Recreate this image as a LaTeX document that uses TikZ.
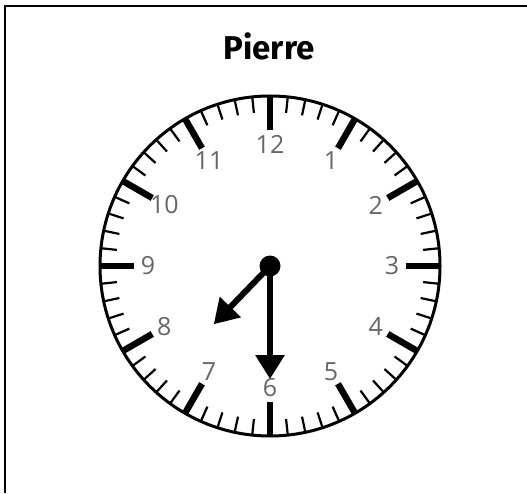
\documentclass[tikz,border=0pt]{standalone}
\usepackage{fontspec}
\usepackage{tikz}
\usetikzlibrary{arrows.meta}
\newfontfamily\numfont{Open Sans}
\newfontfamily\titlefont{Fira Sans}
\definecolor{numgray}{HTML}{666666}

\begin{document}
\begin{tikzpicture}[
    x=1pt, y=1pt,
    rim/.style={line width=3pt},
    minortick/.style={line width=2.2pt},
    majortick/.style={line width=6.5pt},
    numlabel/.style={font=\numfont\fontsize{25}{25}\selectfont, text=numgray, inner sep=0pt},
    hand/.style={line width=6pt, -{Triangle[width=28pt,length=24pt]}},
]
\useasboundingbox (0,0) rectangle (527,493);

% Frame (only top and left edges fall on the page)
\draw[line width=2pt] (4.5,0) -- (4.5,487) -- (527,487);

% Title
\node[font=\titlefont\fontseries{sb}\selectfont\fontsize{33}{33}\selectfont] (title) at (269,447) {Pierre};

% Dial
\begin{scope}[shift={(270,227)}]
\coordinate (centre) at (0,0);
\draw[rim] (centre) circle (170);

% Minute and hour ticks
\foreach \m in {0,...,59}
  \draw[minortick] ({90-6*\m}:170) -- ({90-6*\m}:154);
\foreach \h in {0,...,11}
  \draw[majortick] ({90-30*\h}:170) -- ({90-30*\h}:136);

% Numbers
\foreach \h in {1,...,12}
  \node[numlabel] (n\h) at ({90-30*\h}:122) {\h};

% Hands
\coordinate (hourtip) at (226:81);
\coordinate (minutetip) at (270:113);
\draw[hand] (centre) -- (hourtip);
\draw[hand] (centre) -- (minutetip);
\node[circle, fill, inner sep=0pt, minimum size=21pt] (pivot) at (centre) {};
\end{scope}

\end{tikzpicture}
\end{document}
